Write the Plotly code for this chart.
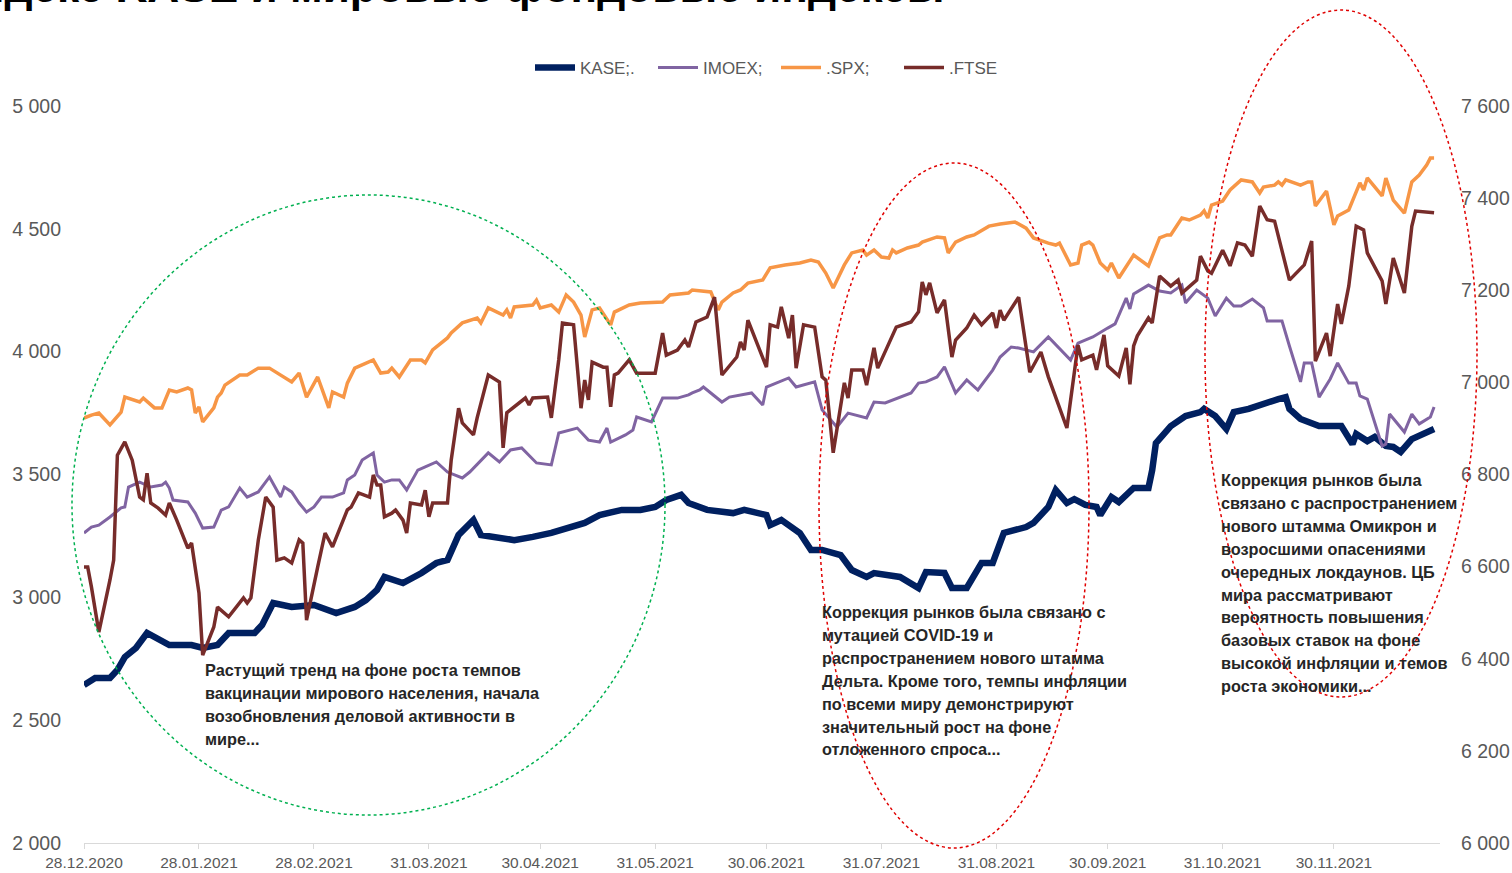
import pandas as pd
import plotly.graph_objects as go

# ---------------- data (days counted from 28.12.2020) ----------------
START = pd.Timestamp("2020-12-28")

kase_days = [0, 3, 7, 9, 11, 14, 17, 20, 23, 29,
             32, 36, 39, 46, 48, 51, 56, 62, 66, 68,
             73, 76, 79, 81, 86, 91, 95, 98, 101, 105,
             107, 112, 116, 121, 126, 135, 139, 145, 150, 154,
             157, 161, 163, 168, 175, 178, 184, 185, 188, 193,
             196, 199, 204, 207, 211, 213, 220, 225, 227, 232,
             234, 238, 242, 245, 248, 254, 256, 260, 262, 265,
             267, 270, 273, 274, 277, 279, 283, 287, 288, 289,
             293, 297, 301, 302, 305, 308, 310, 314, 319, 322,
             324, 325, 328, 330, 333, 339, 342, 343, 346, 348,
             351, 353, 355, 358, 360, 364]
kase_vals = [2643, 2672, 2672, 2704, 2757, 2794, 2855, 2834, 2806, 2806,
             2794, 2806, 2855, 2855, 2887, 2977, 2961, 2969, 2948, 2936,
             2961, 2989, 3030, 3083, 3058, 3099, 3140, 3152, 3254, 3315,
             3254, 3242, 3233, 3246, 3262, 3303, 3335, 3356, 3356, 3368,
             3396, 3417, 3384, 3356, 3343, 3356, 3335, 3294, 3315, 3262,
             3193, 3193, 3172, 3111, 3083, 3099, 3083, 3038, 3103, 3099,
             3038, 3038, 3140, 3140, 3262, 3286, 3303, 3368, 3437, 3384,
             3400, 3376, 3368, 3335, 3408, 3388, 3445, 3445, 3518, 3628,
             3697, 3738, 3754, 3767, 3738, 3685, 3754, 3767, 3795, 3807,
             3815, 3767, 3726, 3714, 3697, 3697, 3624, 3665, 3636, 3653,
             3616, 3612, 3592, 3644, 3658, 3685]

imoex_days = [0, 2, 4, 7, 10, 11, 12, 15, 18, 21,
              22, 23, 24, 28, 30, 32, 35, 37, 39, 42,
              44, 47, 50, 53, 54, 56, 58, 60, 62, 64,
              67, 70, 71, 73, 75, 78, 79, 81, 83, 85,
              87, 90, 92, 95, 98, 100, 102, 104, 107, 109,
              112, 115, 118, 122, 126, 128, 133, 136, 139, 141,
              142, 146, 148, 149, 153, 156, 160, 163, 164, 166,
              167, 172, 174, 177, 180, 183, 184, 190, 192, 197,
              199, 203, 206, 211, 213, 216, 220, 223, 225, 227,
              230, 232, 235, 238, 241, 245, 247, 250, 252, 256,
              260, 266, 268, 272, 276, 278, 281, 282, 283, 287,
              290, 293, 296, 297, 300, 303, 305, 308, 310, 312,
              315, 318, 319, 323, 325, 328, 329, 331, 333, 336,
              338, 341, 343, 344, 346, 350, 351, 352, 356, 358,
              360, 363, 364]
imoex_vals = [3262, 3286, 3294, 3327, 3364, 3368, 3449, 3469, 3449, 3457,
              3469, 3445, 3396, 3388, 3343, 3282, 3286, 3355, 3368, 3445,
              3408, 3429, 3490, 3408, 3449, 3429, 3384, 3347, 3368, 3408,
              3408, 3425, 3478, 3498, 3559, 3588, 3498, 3469, 3478, 3478,
              3437, 3518, 3531, 3551, 3510, 3498, 3486, 3510, 3559, 3588,
              3551, 3600, 3608, 3547, 3539, 3669, 3689, 3640, 3632, 3689,
              3632, 3661, 3681, 3734, 3714, 3811, 3811, 3824, 3832, 3844,
              3856, 3795, 3815, 3824, 3832, 3783, 3856, 3893, 3856, 3877,
              3763, 3693, 3750, 3730, 3795, 3791, 3815, 3832, 3872, 3877,
              3897, 3938, 3832, 3885, 3844, 3925, 3978, 4019, 4015, 3999,
              4060, 3966, 4035, 4060, 4096, 4113, 4218, 4174, 4235, 4271,
              4247, 4239, 4271, 4198, 4251, 4218, 4145, 4218, 4186, 4186,
              4214, 4178, 4125, 4125, 4023, 3877, 3954, 3954, 3815, 3889,
              3954, 3872, 3872, 3820, 3807, 3616, 3624, 3746, 3673, 3746,
              3706, 3734, 3775]

spx_days = [0, 2, 4, 7, 10, 11, 15, 16, 19, 21,
            23, 25, 28, 29, 30, 31, 32, 35, 36, 37,
            38, 42, 44, 47, 50, 53, 56, 58, 60, 63,
            66, 67, 70, 71, 73, 75, 78, 80, 82, 83,
            85, 88, 91, 92, 94, 98, 99, 102, 106, 107,
            109, 113, 114, 115, 116, 121, 122, 123, 126, 128,
            130, 132, 134, 135, 137, 139, 142, 143, 147, 150,
            156, 158, 163, 164, 169, 171, 172, 175, 177, 179,
            183, 185, 189, 193, 196, 198, 200, 202, 205, 207,
            210, 211, 213, 215, 217, 218, 219, 222, 225, 226,
            230, 232, 233, 235, 238, 240, 242, 244, 247, 251,
            254, 256, 260, 262, 263, 266, 268, 269, 271, 272,
            274, 276, 277, 279, 283, 287, 290, 292, 293, 296,
            298, 301, 302, 303, 304, 307, 309, 312, 315, 317,
            318, 321, 322, 323, 324, 328, 330, 331, 332, 335,
            337, 338, 341, 344, 345, 346, 350, 351, 353, 356,
            358, 360, 362, 363, 364]
spx_vals = [3730, 3742, 3750, 3702, 3754, 3815, 3795, 3811, 3771, 3771,
            3844, 3836, 3852, 3844, 3750, 3775, 3714, 3771, 3815, 3832,
            3864, 3905, 3905, 3933, 3933, 3905, 3877, 3913, 3815, 3897,
            3771, 3836, 3815, 3872, 3933, 3946, 3966, 3913, 3917, 3933,
            3897, 3966, 3966, 3954, 4007, 4056, 4076, 4117, 4137, 4117,
            4178, 4149, 4170, 4137, 4182, 4190, 4210, 4178, 4190, 4161,
            4231, 4202, 4149, 4060, 4170, 4178, 4109, 4161, 4190, 4198,
            4202, 4231, 4239, 4251, 4243, 4170, 4202, 4239, 4251, 4279,
            4292, 4341, 4353, 4361, 4373, 4365, 4320, 4259, 4353, 4402,
            4414, 4393, 4414, 4385, 4381, 4414, 4402, 4422, 4434, 4446,
            4467, 4463, 4402, 4446, 4467, 4475, 4495, 4511, 4520, 4528,
            4503, 4463, 4442, 4434, 4442, 4353, 4361, 4434, 4446, 4434,
            4361, 4332, 4361, 4300, 4393, 4349, 4463, 4475, 4475, 4544,
            4536, 4556, 4573, 4544, 4597, 4613, 4658, 4699, 4691, 4646,
            4670, 4678, 4691, 4678, 4699, 4678, 4691, 4691, 4593, 4654,
            4516, 4552, 4577, 4687, 4658, 4707, 4634, 4707, 4617, 4564,
            4691, 4719, 4760, 4788, 4788]

ftse_days = [0, 1, 2, 4, 7, 8, 9, 11, 13, 15,
             16, 17, 18, 20, 22, 23, 25, 28, 29, 31,
             32, 35, 36, 39, 43, 44, 45, 47, 49, 51,
             52, 54, 56, 58, 59, 60, 63, 65, 67, 71,
             72, 74, 77, 78, 79, 80, 81, 83, 84, 86,
             87, 88, 91, 92, 93, 94, 98, 99, 101, 102,
             105, 106, 109, 112, 113, 114, 119, 120, 121, 125,
             126, 128, 129, 132, 134, 135, 136, 137, 140, 141,
             142, 143, 144, 147, 149, 154, 156, 157, 160, 162,
             163, 165, 168, 170, 172, 176, 177, 178, 179, 182,
             184, 185, 187, 188, 190, 191, 192, 194, 197, 199,
             200, 202, 205, 206, 207, 210, 211, 213, 214, 219,
             223, 225, 226, 227, 228, 230, 232, 234, 235, 238,
             240, 242, 245, 246, 247, 248, 252, 255, 258, 260,
             262, 265, 268, 269, 272, 273, 275, 276, 279, 281,
             282, 283, 284, 287, 288, 290, 293, 295, 296, 300,
             301, 303, 304, 307, 309, 311, 313, 315, 317, 319,
             321, 325, 329, 331, 332, 335, 336, 338, 339, 341,
             343, 345, 346, 350, 351, 353, 356, 358, 359, 364]
ftse_vals = [6599, 6599, 6556, 6458, 6571, 6614, 6842, 6871, 6831, 6751,
             6745, 6803, 6738, 6727, 6712, 6738, 6701, 6640, 6651, 6543,
             6408, 6469, 6512, 6491, 6532, 6521, 6532, 6658, 6751, 6729,
             6614, 6619, 6608, 6658, 6651, 6484, 6599, 6673, 6643, 6723,
             6729, 6760, 6751, 6799, 6777, 6777, 6708, 6716, 6723, 6701,
             6673, 6738, 6734, 6766, 6708, 6738, 6738, 6831, 6944, 6912,
             6886, 6923, 7016, 7001, 6858, 6934, 6966, 6951, 6966, 6968,
             6923, 7049, 7129, 7125, 6944, 7005, 6962, 7044, 7033, 7033,
             6947, 7016, 7020, 7049, 7020, 7020, 7107, 7059, 7070, 7092,
             7077, 7131, 7142, 7185, 7016, 7055, 7088, 7070, 7135, 7075,
             7033, 7125, 7120, 7164, 7096, 7146, 7031, 7125, 7120, 7012,
             7005, 6847, 6999, 6966, 7027, 7027, 6994, 7075, 7031, 7120,
             7131, 7153, 7218, 7190, 7216, 7151, 7179, 7055, 7092, 7118,
             7146, 7125, 7151, 7118, 7157, 7135, 7185, 7022, 7066, 7012,
             6966, 6901, 7081, 7049, 7059, 7027, 7103, 7036, 7014, 7075,
             6996, 7079, 7101, 7140, 7129, 7231, 7209, 7222, 7194, 7222,
             7274, 7242, 7237, 7287, 7253, 7303, 7298, 7274, 7383, 7353,
             7350, 7222, 7255, 7307, 7046, 7107, 7057, 7170, 7127, 7209,
             7339, 7331, 7281, 7220, 7170, 7270, 7194, 7339, 7372, 7368]

tick_dates = ["2020-12-28", "2021-01-28", "2021-02-28", "2021-03-31", "2021-04-30",
              "2021-05-31", "2021-06-30", "2021-07-31", "2021-08-31", "2021-09-30",
              "2021-10-31", "2021-11-30"]
tick_labels = ["28.12.2020", "28.01.2021", "28.02.2021", "31.03.2021", "30.04.2021",
               "31.05.2021", "30.06.2021", "31.07.2021", "31.08.2021", "30.09.2021",
               "31.10.2021", "30.11.2021"]

series_names = ["KASE;.", "IMOEX;", ".SPX;", ".FTSE"]

title_text = "Индекс KASE и мировые фондовые индексы"
note1 = ["Растущий тренд на фоне роста темпов",
         "вакцинации мирового населения, начала",
         "возобновления деловой активности в",
         "мире..."]
note2 = ["Коррекция рынков была связано с",
         "мутацией COVID-19 и",
         "распространением нового штамма",
         "Дельта. Кроме того, темпы инфляции",
         "по всеми миру демонстрируют",
         "значительный рост на фоне",
         "отложенного спроса..."]
note3 = ["Коррекция рынков была",
         "связано с распространением",
         "нового штамма Омикрон и",
         "возросшими опасениями",
         "очередных локдаунов. ЦБ",
         "мира рассматривают",
         "вероятность повышения",
         "базовых ставок на фоне",
         "высокой инфляции и темов",
         "роста экономики..."]

# ---------------- layout helpers ----------------
W, H = 1512, 873
ML, MR, MT, MB = 84, 72, 106, 30
PL, PR, PT, PB = ML, W - MR, MT, H - MB


def px(x):
    return (x - PL) / (PR - PL)


def py(y):
    return (PB - y) / (PB - PT)


def to_dates(days):
    return [START + pd.Timedelta(days=d) for d in days]


FONT = "Liberation Sans, Arial, sans-serif"
GREY = "#595959"

fig = go.Figure()
fig.add_trace(go.Scatter(x=to_dates(kase_days), y=kase_vals, name=series_names[0],
                         mode="lines", line=dict(color="#002060", width=6.5)))
fig.add_trace(go.Scatter(x=to_dates(imoex_days), y=imoex_vals, name=series_names[1],
                         mode="lines", line=dict(color="#8064A2", width=3)))
fig.add_trace(go.Scatter(x=to_dates(spx_days), y=spx_vals, name=series_names[2],
                         mode="lines", line=dict(color="#F79646", width=3.5)))
fig.add_trace(go.Scatter(x=to_dates(ftse_days), y=ftse_vals, name=series_names[3],
                         mode="lines", line=dict(color="#772C2A", width=3.5), yaxis="y2"))

annotations = []
# cropped title at the very top
annotations.append(dict(text=title_text, xref="paper", yref="paper", x=px(946), y=py(-13),
                        xanchor="right", yanchor="middle", showarrow=False,
                        font=dict(family=FONT, size=44.2, color="#000000", weight="bold")))

LS = 22.9
for lines, (x0, y0) in [(note1, (203, 670)), (note2, (820, 612)), (note3, (1219, 480))]:
    for i, ln in enumerate(lines):
        annotations.append(dict(text="<b>" + ln + "</b>", xref="paper", yref="paper",
                                x=px(x0), y=py(y0 + i * LS), xanchor="left", yanchor="middle",
                                showarrow=False,
                                font=dict(family=FONT, size=16.3, color="#262626")))

shapes = [
    dict(type="circle", xref="paper", yref="paper", x0=px(72), x1=px(665), y0=py(815), y1=py(195),
         line=dict(color="#00B050", width=1.5, dash="dot")),
    dict(type="circle", xref="paper", yref="paper", x0=px(819), x1=px(1089), y0=py(848), y1=py(163),
         line=dict(color="#E00000", width=1.5, dash="dot")),
    dict(type="circle", xref="paper", yref="paper", x0=px(1205), x1=px(1477), y0=py(697), y1=py(10),
         line=dict(color="#E00000", width=1.5, dash="dot")),
]

fig.update_layout(
    width=W, height=H,
    margin=dict(l=ML, r=MR, t=MT, b=MB, pad=0, autoexpand=False),
    paper_bgcolor="white", plot_bgcolor="white",
    separators=", ",
    font=dict(family=FONT, color=GREY),
    showlegend=True,
    hovermode=False,
    legend=dict(orientation="h", x=px(530), xanchor="left", y=py(68), yanchor="middle",
                font=dict(family=FONT, size=17, color=GREY), bgcolor="rgba(0,0,0,0)",
                itemwidth=40, entrywidth=68, entrywidthmode="pixels", traceorder="normal"),
    xaxis=dict(type="date", range=[START, START + pd.Timedelta(days=365.6)],
               tickmode="array", tickvals=tick_dates, ticktext=tick_labels,
               showgrid=False, zeroline=False, showline=True, linecolor="#D9D9D9", linewidth=1,
               ticks="outside", ticklen=5, tickcolor="#D9D9D9", automargin=False,
               tickfont=dict(family=FONT, size=15.5, color=GREY)),
    yaxis=dict(range=[2000, 5000], tick0=2000, dtick=500, tickformat=",d",
               showgrid=False, zeroline=False, showline=False, ticks="", automargin=False,
               ticklabelstandoff=22,
               tickfont=dict(family=FONT, size=19.5, color=GREY)),
    yaxis2=dict(range=[6000, 7600], tick0=6000, dtick=200, tickformat=",d",
                overlaying="y", side="right", automargin=False,
                showgrid=False, zeroline=False, showline=False, ticks="",
                ticklabelstandoff=20,
                tickfont=dict(family=FONT, size=19.5, color=GREY)),
    annotations=annotations,
    shapes=shapes,
)

# the page's default 8px body margin would shift the 1512x873 figure; remove it
fig.write_html("out.html",
               config={"displayModeBar": False},
               post_script="document.body.style.margin='0px';document.body.style.overflow='hidden';")
